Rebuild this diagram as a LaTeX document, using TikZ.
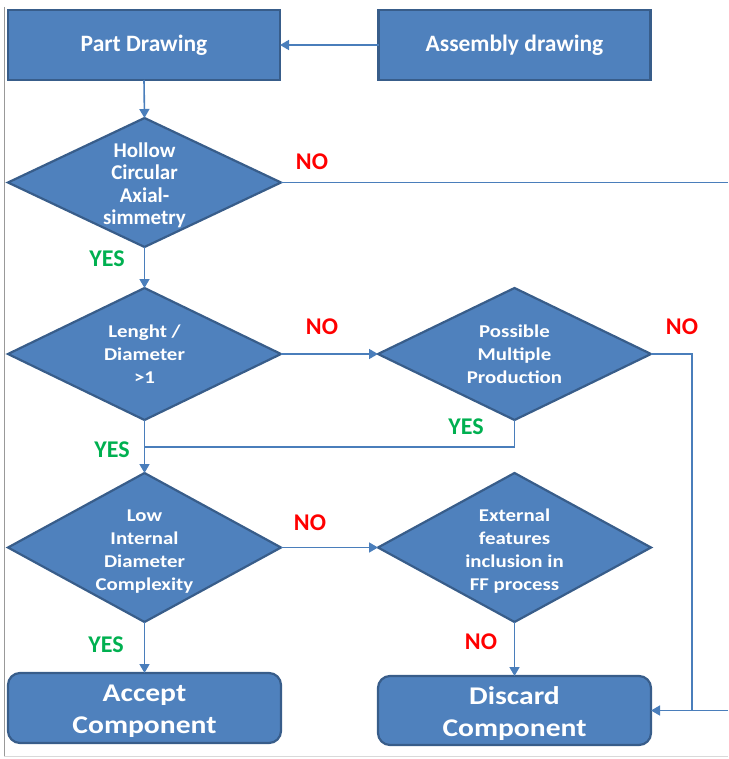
\documentclass[tikz,border=0pt]{standalone}
\usepackage{fontspec}
\setmainfont{Carlito}
\newfontfamily\expfont{Carlito}[FakeStretch=1.16]
\usetikzlibrary{shapes.geometric,arrows.meta}
\definecolor{boxfill}{HTML}{4F81BD}
\definecolor{boxedge}{HTML}{385D8A}
\definecolor{wire}{HTML}{4A7EBB}
\definecolor{yescol}{HTML}{00B050}
\definecolor{nocol}{HTML}{FF0000}
\tikzset{
  sqbox/.style={draw=boxedge, line width=2.2pt, fill=boxfill, rectangle,
    minimum width=272pt, minimum height=70pt, inner sep=0pt, outer sep=0pt,
    text=white, font=\bfseries\fontsize{23.5}{27}\selectfont},
  endbox/.style={draw=boxedge, line width=2.2pt, fill=boxfill, rectangle,
    rounded corners=12pt, minimum width=273pt, minimum height=70pt,
    inner sep=0pt, outer sep=0pt, align=center, text=white,
    font=\expfont\bfseries\fontsize{25}{32}\selectfont},
  endtext/.style={align=center, text=white, inner sep=0pt,
    font=\expfont\bfseries\fontsize{25.5}{32}\selectfont},
  decision/.style={draw=boxedge, line width=2.2pt, fill=boxfill, diamond,
    minimum width=273pt, inner sep=0pt, outer sep=0pt},
  dtext/.style={align=center, text=white, inner sep=0pt,
    font=\expfont\bfseries\fontsize{18}{23}\selectfont},
  dtextc/.style={align=center, text=white, inner sep=0pt,
    font=\bfseries\fontsize{21}{22.5}\selectfont},
  wireline/.style={draw=wire, line width=1.6pt},
  arrowline/.style={wireline, -{Triangle[length=9pt,width=10pt]}},
  yeslabel/.style={text=yescol, font=\bfseries\fontsize{24}{24}\selectfont, inner sep=0pt},
  nolabel/.style={text=nocol, font=\bfseries\fontsize{24}{24}\selectfont, inner sep=0pt},
}
\begin{document}
\begin{tikzpicture}[x=1pt,y=-1pt]
\useasboundingbox (0,0) rectangle (728,759);
% frame lines
\draw[draw=black!40, line width=1pt] (4,7) -- (4,756);
\draw[draw=black!15, line width=1pt] (4,756) -- (728,756);

% boxes
\node[sqbox] (part) at (144,45) {Part Drawing};
\node[sqbox] (asm) at (514.5,45) {Assembly drawing};

\node[decision, minimum height=129pt] (d1) at (144.5,182.5) {};
\node[dtextc] (t1) at ([yshift=-3pt]d1.center) {Hollow\\Circular\\Axial-\\simmetry};

\node[decision, minimum height=132pt] (d2) at (144.5,354) {};
\node[dtext] (t2) at (d2.center) {Lenght /\\Diameter\\>1};

\node[decision, minimum height=132pt] (d3) at (514.5,354) {};
\node[dtext] (t3) at (d3.center) {Possible\\Multiple\\Production};

\node[decision, minimum height=149pt] (d4) at (144.5,547.5) {};
\node[dtext] (t4) at ([yshift=-4pt]d4.center) {Low\\Internal\\Diameter\\Complexity};

\node[decision, minimum height=149pt] (d5) at (514.5,547.5) {};
\node[dtext] (t5) at ([yshift=-4pt]d5.center) {External\\features\\inclusion in\\FF process};

\node[endbox] (accept) at (144.5,708) {};
\node[endtext] (ta) at ([yshift=-3pt]accept.center) {Accept\\Component};
\node[endbox, minimum height=69pt] (discard) at (514.5,710.5) {};
\node[endtext] (td) at ([yshift=-3pt]discard.center) {Discard\\Component};

% helper points
\coordinate (exitR) at (728,182.5);
\coordinate (entR) at (728,710.5);
\coordinate (jn) at (692,710.5);
\coordinate (mj) at (144.5,447);

% connectors
\draw[arrowline] (asm.west) -- (part.east);
\draw[arrowline] (part.south) -- (d1.north);
\draw[wireline] (d1.east) -- (exitR);
\draw[arrowline] (d1.south) -- (d2.north);
\draw[arrowline] (d2.east) -- (d3.west);
\draw[wireline] (d3.east) -| (jn);
\draw[arrowline] (entR) -- (discard.east);
\draw[wireline] (d3.south) |- (mj);
\draw[arrowline] (d2.south) -- (d4.north);
\draw[arrowline] (d4.east) -- (d5.west);
\draw[arrowline] (d4.south) -- (accept.north);
\draw[arrowline] (d5.south) -- (discard.north);

% branch labels
\node[nolabel] (n1) at (312,162) {NO};
\node[yeslabel] (y1) at (107,259) {YES};
\node[nolabel] (n2) at (322,327) {NO};
\node[nolabel] (n3) at (682,327) {NO};
\node[yeslabel] (y3) at (466,427) {YES};
\node[yeslabel] (y2) at (112,450) {YES};
\node[nolabel] (n4) at (310,523) {NO};
\node[yeslabel] (y4) at (106,645) {YES};
\node[nolabel] (n5) at (481,642) {NO};
\end{tikzpicture}
\end{document}
